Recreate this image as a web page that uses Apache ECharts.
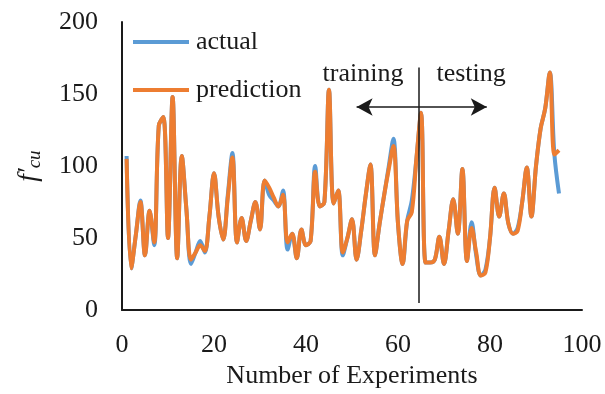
<!DOCTYPE html>
<html>
<head>
<meta charset="utf-8">
<script src="https://cdn.jsdelivr.net/npm/echarts@6/dist/echarts.min.js"></script>
<style>
  html, body { margin: 0; padding: 0; background: #fff; }
  #chart { width: 605px; height: 394px; }
</style>
</head>
<body>
<div id="chart"></div>
<script>
// Experiment index (1..95)
const experiments = Array.from({ length: 95 }, (_, k) => k + 1);

// Measured compressive strength
const actual = [
  107, 29, 52, 76, 38, 69, 45, 128, 134, 50,
  148, 36, 107, 70, 32, 40, 48, 40, 65, 95,
  65, 49, 80, 109, 47, 64, 48, 62, 75, 56,
  90, 80, 76, 72, 83, 42, 53, 36, 56, 45,
  48, 100, 72, 75, 153, 74, 83, 38, 50, 63,
  35, 55, 80, 101, 38, 60, 80, 100, 119, 60,
  32, 62, 76, 105, 137, 33, 33, 35, 51, 32,
  55, 77, 53, 98, 34, 61, 38, 24, 28, 50,
  85, 65, 81, 60, 53, 57, 75, 99, 65, 100,
  126, 140, 165, 108, 81
];

// Model output
const prediction = [
  105, 29, 52, 75, 38, 69, 47, 128, 134, 50,
  148, 36, 107, 70, 35, 40, 45, 41, 65, 95,
  65, 49, 78, 106, 47, 64, 48, 62, 75, 56,
  90, 85, 78, 72, 80, 47, 53, 36, 56, 45,
  48, 96, 72, 75, 153, 74, 83, 40, 50, 63,
  35, 55, 80, 101, 38, 60, 80, 98, 114, 60,
  32, 62, 68, 105, 137, 33, 33, 35, 51, 32,
  55, 77, 53, 98, 34, 57, 40, 24, 26, 50,
  85, 65, 81, 60, 53, 55, 75, 99, 65, 100,
  126, 140, 165, 108, 111
];

// Tick labels
const xTicks = [0, 20, 40, 60, 80, 100];
const yTicks = [0, 50, 100, 150, 200];

// Split between training and testing sets (data coordinates)
const splitX = 64.5;
const splitSpan = [5, 168.5];
const arrowSpan = [51, 79.3];
const arrowY = 141;
const splitLabels = [
  { text: 'training', x: 52.4, y: 163.8 },
  { text: 'testing', x: 75.9, y: 163.8 }
];

const serif = '"Liberation Serif", "DejaVu Serif", serif';
const ink = '#1a1a1a';

const chart = echarts.init(document.getElementById('chart'));

chart.setOption({
  animation: false,
  backgroundColor: '#ffffff',
  grid: { left: 122, right: 23, top: 22, bottom: 79 },
  legend: {
    orient: 'vertical',
    left: 128,
    top: 24,
    itemWidth: 56,
    itemHeight: 4,
    itemGap: 22,
    icon: 'rect',
    textStyle: { fontFamily: serif, fontSize: 26, color: ink, padding: [0, 0, 0, 2] },
    data: ['actual', 'prediction']
  },
  xAxis: {
    type: 'value',
    min: xTicks[0],
    max: xTicks[xTicks.length - 1],
    interval: 20,
    name: 'Number of Experiments',
    nameLocation: 'middle',
    nameGap: 50,
    nameTextStyle: { fontFamily: serif, fontSize: 26, color: ink },
    axisLine: { lineStyle: { color: ink, width: 2 } },
    axisTick: { show: false },
    splitLine: { show: false },
    axisLabel: { fontFamily: serif, fontSize: 26, color: ink, margin: 22 }
  },
  yAxis: {
    type: 'value',
    min: yTicks[0],
    max: yTicks[yTicks.length - 1],
    interval: 50,
    name: '{f|f′}{s|cu}',
    nameLocation: 'middle',
    nameGap: 78,
    nameRotate: 90,
    nameTextStyle: {
      rich: {
        f: { fontFamily: serif, fontStyle: 'italic', fontSize: 27, color: ink, lineHeight: 30 },
        s: { fontFamily: serif, fontStyle: 'italic', fontSize: 19, color: ink, lineHeight: 30, verticalAlign: 'bottom', padding: [12, 0, 0, 0] }
      }
    },
    axisLine: { show: true, lineStyle: { color: ink, width: 2 } },
    axisTick: { show: false },
    splitLine: { show: false },
    axisLabel: { fontFamily: serif, fontSize: 26, color: ink, margin: 24 }
  },
  series: [
    {
      name: 'actual',
      type: 'line',
      data: experiments.map((x, k) => [x, actual[k]]),
      smooth: 0.35,
      showSymbol: false,
      symbol: 'none',
      color: '#5B9BD5',
      lineStyle: { width: 4, color: '#5B9BD5' },
      z: 2
    },
    {
      name: 'prediction',
      type: 'line',
      data: experiments.map((x, k) => [x, prediction[k]]),
      smooth: 0.35,
      showSymbol: false,
      symbol: 'none',
      color: '#ED7D31',
      lineStyle: { width: 4, color: '#ED7D31' },
      z: 3,
      markLine: {
        silent: true,
        animation: false,
        label: { show: false },
        data: [
          [
            { coord: [splitX, splitSpan[0]], symbol: 'none', lineStyle: { color: ink, width: 1.5, type: 'solid' } },
            { coord: [splitX, splitSpan[1]], symbol: 'none' }
          ],
          [
            { coord: [arrowSpan[0], arrowY], symbol: 'arrow', symbolSize: [13, 16], lineStyle: { color: ink, width: 1.5, type: 'solid' } },
            { coord: [arrowSpan[1], arrowY], symbol: 'arrow', symbolSize: [13, 16] }
          ]
        ]
      },
      markPoint: {
        silent: true,
        symbol: 'circle',
        symbolSize: 0,
        label: {
          show: true,
          position: 'inside',
          fontFamily: serif,
          fontSize: 26,
          color: ink,
          formatter: p => p.name
        },
        data: splitLabels.map(l => ({ name: l.text, coord: [l.x, l.y] }))
      }
    }
  ]
});
</script>
</body>
</html>
